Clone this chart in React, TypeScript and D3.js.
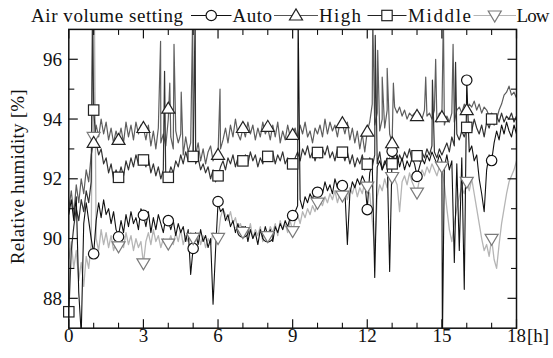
import React from "react";
import * as d3 from "d3";

// logger samples every 0.1 h, 0 .. 18 h
const hours = d3.range(181).map((i) => i / 10);

const autoValues = [
  90.8, 91.3, 90.6, 91.4, 88.2, 86.8, 90.5, 91.2, 90.6, 90.0, 89.5,
  90.6, 91.2, 90.7, 91.3, 90.8, 91.0, 90.5, 90.9, 90.3, 90.1,
  90.6, 90.2, 90.8, 90.4, 90.9, 90.5, 90.7, 90.3, 91.0, 90.8,
  90.4, 90.9, 90.2, 90.7, 90.3, 90.8, 90.5, 90.2, 90.7, 90.6,
  90.3, 90.6, 90.1, 90.5, 90.2, 90.4, 89.9, 90.3, 88.8, 89.7,
  90.2, 89.8, 90.3, 89.9, 90.1, 89.7, 90.0, 87.8, 89.6, 91.2,
  90.9, 91.0, 90.6, 90.8, 90.4, 90.6, 90.2, 90.5, 90.1, 90.2,
  90.4, 89.9, 90.3, 90.0, 90.2, 89.8, 90.3, 90.0, 90.4, 90.1,
  90.3, 89.9, 90.4, 90.2, 90.5, 90.3, 90.6, 90.4, 90.7, 90.8,
  90.9, 91.1, 91.3, 91.0, 91.4, 91.2, 91.5, 91.3, 91.7, 91.55,
  91.7, 91.5, 91.9, 91.6, 91.8, 91.5, 92.0, 91.7, 91.9, 91.8,
  91.6, 89.8, 91.5, 91.9, 91.7, 92.0, 91.8, 92.1, 91.9, 91.0,
  92.2, 92.5, 88.7, 92.4, 92.6, 92.3, 92.5, 92.7, 88.9, 92.9,
  92.5, 92.8, 92.4, 92.7, 92.3, 92.6, 92.4, 92.7, 92.5, 92.1,
  92.4, 92.7, 92.5, 92.8, 92.6, 92.9, 92.7, 92.5, 92.8, 92.6,
  92.4, 92.8, 92.3, 92.6, 89.2, 92.5, 89.6, 92.7, 88.3, 95.3,
  92.9, 93.1, 92.6, 92.8, 92.0, 91.5, 90.9, 92.3, 92.8, 92.6,
  93.2, 93.6, 93.3, 93.8, 93.5, 93.9, 93.6, 93.4, 93.8, 93.5,
];
const highValues = [
  91.0, 91.6, 90.8, 91.8, 91.2, 92.0, 91.5, 92.3, 91.9, 92.8, 93.2,
  93.8, 93.4, 94.0, 93.5, 93.9, 93.3, 93.7, 93.2, 93.6, 93.3,
  93.7, 93.2, 93.9, 93.4, 93.8, 93.3, 93.9, 93.5, 93.8, 93.7,
  93.3, 93.8, 93.1, 93.6, 93.0, 93.7, 93.2, 93.5, 93.1, 94.0,
  93.4, 93.0, 93.6, 93.2, 93.5, 92.8, 93.4, 92.9, 93.2, 92.9,
  92.8, 93.2, 92.6, 93.0, 92.5, 92.9, 93.1, 92.6, 92.8, 92.8,
  93.0, 93.3, 93.7, 93.2, 93.8, 93.4, 94.0, 93.5, 93.3, 93.7,
  93.4, 93.9, 93.5, 93.8, 93.3, 93.7, 93.4, 93.9, 93.5, 93.7,
  93.3, 93.8, 93.4, 93.9, 93.2, 93.6, 93.3, 93.8, 93.4, 93.5,
  93.7, 93.3, 93.8, 93.5, 93.9, 93.4, 93.6, 93.2, 93.7, 93.5,
  93.8, 93.4, 94.0, 93.5, 93.9, 93.6, 93.8, 93.4, 93.9, 93.85,
  93.5, 93.9, 93.3, 93.7, 93.2, 93.6, 93.0, 93.5, 92.9, 93.6,
  93.9, 94.5, 93.8, 94.2, 93.6, 94.0, 93.7, 94.3, 93.5, 93.2,
  94.4, 94.2, 94.4, 94.1, 94.3, 94.0, 94.2, 94.1, 94.2, 94.1,
  94.2, 94.0, 94.3, 94.1, 94.2, 94.0, 94.3, 93.9, 94.2, 94.06,
  93.8, 94.1, 93.9, 94.2, 93.9, 94.3, 94.4, 94.2, 94.5, 94.3,
  94.5, 94.4, 94.6, 94.3, 94.5, 94.2, 94.4, 94.3, 94.1, 94.2,
  94.1, 94.0, 94.3, 94.5, 94.8, 94.9, 95.1, 94.8, 94.9, 94.7,
];
const middleValues = [
  87.5, 89.6, 90.4, 91.0, 90.6, 91.3, 90.9, 91.6, 91.2, 91.9, 94.3,
  93.2, 92.8, 93.0, 92.5, 92.7, 92.2, 92.5, 92.0, 92.3, 92.05,
  92.4, 92.1, 92.6, 92.3, 92.7, 92.4, 92.8, 92.5, 92.7, 92.63,
  92.4, 92.7, 92.2, 92.5, 92.1, 92.4, 92.0, 92.3, 91.9, 92.05,
  92.4, 92.2, 92.6, 92.4, 92.8, 92.5, 92.9, 92.6, 92.8, 92.75,
  92.5, 92.7, 92.3, 92.5, 92.2, 92.4, 92.0, 92.3, 91.9, 92.1,
  92.4, 92.6, 92.3, 92.7, 92.5, 92.8, 92.4, 92.7, 92.5, 92.6,
  92.8, 92.5, 92.9, 92.6, 92.8, 92.4, 92.7, 92.5, 92.9, 92.75,
  92.6, 92.9, 92.5, 92.8, 92.6, 92.9, 92.5, 92.7, 92.4, 92.5,
  92.7, 92.9, 92.6, 93.0, 92.8, 93.1, 92.7, 92.9, 92.6, 92.88,
  92.7, 93.0, 92.8, 93.1, 92.7, 92.9, 92.6, 93.0, 92.8, 92.89,
  92.6, 92.9, 92.5, 92.8, 92.4, 92.7, 92.5, 92.8, 92.3, 92.49,
  92.7, 92.4, 92.8, 92.5, 92.9, 92.3, 92.6, 92.4, 92.7, 92.5,
  92.7, 92.5, 92.8, 92.6, 92.9, 92.7, 93.0, 92.6, 92.8, 92.77,
  92.6, 92.9, 92.7, 93.0, 92.8, 93.1, 92.9, 92.7, 93.0, 92.8,
  93.0, 93.2, 92.9, 93.4, 93.1, 93.5, 93.3, 93.6, 93.4, 93.72,
  93.9, 93.6, 94.0, 93.7, 93.5, 93.8, 93.4, 93.9, 93.7, 94.0,
  93.8, 94.1, 93.9, 94.2, 93.9, 94.1, 94.0, 94.2, 93.9, 94.1,
];
const lowValues = [
  89.3, 89.9, 89.0, 89.6, 88.6, 89.2, 88.4, 89.4, 89.0, 89.8, 93.4,
  90.0, 89.6, 90.3, 89.8, 90.2, 89.7, 90.1, 89.6, 89.9, 89.74,
  90.0, 89.7, 90.2, 89.8, 90.1, 89.6, 90.0, 89.7, 89.9, 89.17,
  89.9, 90.2, 89.8, 90.3, 89.9, 90.1, 89.7, 90.0, 89.8, 89.83,
  90.1, 89.8, 90.2, 89.9, 90.3, 89.8, 90.1, 89.9, 90.2, 90.02,
  89.9, 90.2, 89.8, 90.1, 89.7, 90.0, 89.8, 90.2, 90.0, 90.02,
  90.7, 91.0, 90.8, 90.6, 90.9, 90.5, 90.7, 90.3, 90.5, 90.22,
  90.4, 90.1, 90.5, 90.0, 90.3, 90.1, 90.4, 89.9, 90.2, 90.08,
  90.4, 90.2, 90.5, 90.1, 90.6, 90.3, 90.5, 90.2, 90.6, 90.25,
  90.6, 90.8, 90.5, 90.9, 90.7, 91.0, 90.8, 91.1, 90.9, 91.2,
  91.3, 91.1, 91.4, 91.2, 91.5, 91.3, 91.6, 91.2, 91.5, 91.44,
  91.6, 91.3, 91.7, 91.5, 91.8, 91.4, 91.7, 91.5, 91.9, 91.74,
  91.5, 90.6, 89.6, 91.4, 91.8, 91.6, 92.0, 91.7, 92.1, 92.06,
  92.0, 91.8, 90.9, 91.9, 92.1, 91.8, 92.2, 91.9, 91.7, 91.54,
  92.0, 92.3, 92.1, 92.4, 92.2, 92.5, 92.3, 92.1, 92.4, 92.41,
  91.8, 91.0, 90.3, 89.9, 90.5, 91.0, 91.4, 91.7, 91.5, 91.9,
  91.6, 92.0, 91.5, 91.0, 90.5, 90.0, 89.6, 89.8, 89.4, 89.99,
  89.3, 89.0, 89.8, 90.5, 91.0, 91.5, 91.9, 92.1, 92.3, 92.6,
];

// short spikes between samples: [hour, %]
const autoSpikes: [number, number][] = [[9.22, 97.5], [15.02, 86.5]];
const highSpikes: [number, number][] = [
  [3.69, 96.6], [4.06, 95.2], [4.23, 96.5], [4.52, 94.9], [4.98, 97.5], [6.08, 95.0],
  [12.22, 97.5], [12.42, 96.3], [12.6, 95.4], [12.8, 95.7], [13.05, 95.2],
  [14.35, 95.4], [14.75, 96.0], [15.06, 97.5], [15.45, 96.5],
];
const middleSpikes: [number, number][] = [
  [0.95, 97.5], [3.85, 95.6], [5.08, 97.5], [12.32, 96.8], [14.62, 95.3], [15.55, 95.9],
];
const lowSpikes: [number, number][] = [[0.97, 97.5], [1.03, 97.5]];

// marker positions
const autoMarkHours = [1, 2, 3, 4, 5, 6, 7, 8, 9, 10, 11, 12, 13, 14, 16, 17];
const autoMarkValues = [89.49, 90.06, 90.78, 90.6, 89.67, 91.24, 90.22, 90.06, 90.77, 91.55, 91.77, 90.97, 92.92, 92.08, 95.3, 92.61];
const highMarkHours = [1, 2, 3, 4, 6, 7, 8, 9, 11, 12, 13, 14, 15, 16];
const highMarkValues = [93.2, 93.3, 93.7, 94.35, 92.8, 93.7, 93.74, 93.47, 93.86, 93.58, 93.19, 94.1, 94.06, 94.3];
const middleMarkHours = [0, 1, 2, 3, 4, 5, 6, 7, 8, 9, 10, 11, 12, 13, 14, 16, 17];
const middleMarkValues = [87.55, 94.3, 92.05, 92.63, 92.05, 92.75, 92.1, 92.6, 92.75, 92.5, 92.88, 92.89, 92.49, 92.5, 92.77, 93.72, 94.0];
const lowMarkHours = [1, 2, 3, 4, 5, 6, 7, 8, 9, 10, 11, 12, 13, 14, 15, 16, 17];
const lowMarkValues = [93.4, 89.74, 89.17, 89.83, 90.02, 90.02, 90.22, 90.08, 90.25, 91.2, 91.44, 91.74, 92.06, 91.54, 92.41, 91.9, 89.99];

const xMajorTicks = [0, 3, 6, 9, 12, 15, 18];
const yMajorTicks = [88, 90, 92, 94, 96];

const textStyle = { fontFamily: "Liberation Serif" };

function Marker({ shape, cx, cy, stroke }: { shape: string; cx: number; cy: number; stroke: string }) {
  const common = { fill: "white", stroke, strokeWidth: 1.2 };
  if (shape === "circle") return <circle cx={cx} cy={cy} r={5.2} {...common} />;
  if (shape === "square") return <rect x={cx - 5.2} y={cy - 5.2} width={10.4} height={10.4} {...common} />;
  if (shape === "up")
    return <path d={`M${cx - 6.5},${cy + 4.5}L${cx + 6.5},${cy + 4.5}L${cx},${cy - 6.5}Z`} {...common} />;
  return <path d={`M${cx - 6.5},${cy - 4.5}L${cx + 6.5},${cy - 4.5}L${cx},${cy + 6.5}Z`} {...common} />;
}

export default function App() {
  const width = 553;
  const height = 358;
  const x = d3.scaleLinear().domain([0, 18]).range([68.8, 516.5]);
  const y = d3.scaleLinear().domain([87, 97]).range([328.2, 29.4]);
  const [x0, x1] = x.range();
  const [yb, yt] = y.range();

  const build = (vals: number[], spikes: [number, number][]) =>
    vals
      .map((v, i) => [hours[i], v] as [number, number])
      .concat(spikes)
      .sort((a, b) => a[0] - b[0]);

  const line = d3
    .line<[number, number]>()
    .x((d) => x(d[0]))
    .y((d) => y(d[1]));

  // drawing order: bottom to top
  const series = [
    { name: "Low", pts: build(lowValues, lowSpikes), color: "#b5b5b5", width: 1.3 },
    { name: "High", pts: build(highValues, highSpikes), color: "#5e5e5e", width: 1.2 },
    { name: "Middle", pts: build(middleValues, middleSpikes), color: "#333", width: 1.2 },
    { name: "Auto", pts: build(autoValues, autoSpikes), color: "#111", width: 1.1 },
  ];
  const markerSets = [
    { hours: autoMarkHours, values: autoMarkValues, shape: "circle", stroke: "#111" },
    { hours: middleMarkHours, values: middleMarkValues, shape: "square", stroke: "#222" },
    { hours: lowMarkHours, values: lowMarkValues, shape: "down", stroke: "#7a7a7a" },
    { hours: highMarkHours, values: highMarkValues, shape: "up", stroke: "#222" },
  ];

  const legend = [
    { label: "Auto", shape: "circle", color: "#111", stroke: "#111", x0: 191, x1: 231.5, tx: 232.5, tw: 39.5 },
    { label: "High", shape: "up", color: "#555", stroke: "#222", x0: 274, x1: 318, tx: 319, tw: 42 },
    { label: "Middle", shape: "square", color: "#222", stroke: "#222", x0: 367.5, x1: 406.5, tx: 408, tw: 63 },
    { label: "Low", shape: "down", color: "#b5b5b5", stroke: "#7a7a7a", x0: 473.5, x1: 516, tx: 516.5, tw: 33 },
  ];

  const xMinor = d3.range(0, 19).filter((t) => !xMajorTicks.includes(t));
  const yMinor = [89, 91, 93, 95];

  return (
    <svg
      width={width}
      height={height}
      style={{ position: "absolute", left: 0, top: 0, background: "white" }}
    >
      <defs>
        <clipPath id="plot">
          <rect x={x0} y={yt} width={x1 - x0} height={yb - yt} />
        </clipPath>
      </defs>

      <g clipPath="url(#plot)">
        {series.map((s) => (
          <path key={s.name} d={line(s.pts) || ""} fill="none" stroke={s.color} strokeWidth={s.width} strokeLinejoin="round" />
        ))}
      </g>

      {markerSets.map((m, k) => (
        <g key={k}>
          {m.hours.map((h, i) => (
            <Marker key={h} shape={m.shape} cx={x(h)} cy={y(m.values[i])} stroke={m.stroke} />
          ))}
        </g>
      ))}

      {/* frame */}
      <rect x={x0} y={yt} width={x1 - x0} height={yb - yt} fill="none" stroke="#111" strokeWidth={1.5} />

      {/* x ticks, bottom and top, pointing inward */}
      {xMajorTicks.map((t) => (
        <g key={"xM" + t}>
          <line x1={x(t)} x2={x(t)} y1={yb} y2={yb - 9} stroke="#111" strokeWidth={1.2} />
          <line x1={x(t)} x2={x(t)} y1={yt} y2={yt + 9} stroke="#111" strokeWidth={1.2} />
          <text x={x(t)} y={342} textAnchor="middle" fontSize={19} fill="#111" style={textStyle}>
            {t}
          </text>
        </g>
      ))}
      {xMinor.map((t) => (
        <g key={"xm" + t}>
          <line x1={x(t)} x2={x(t)} y1={yb} y2={yb - 5.5} stroke="#111" strokeWidth={1.1} />
          <line x1={x(t)} x2={x(t)} y1={yt} y2={yt + 5.5} stroke="#111" strokeWidth={1.1} />
        </g>
      ))}
      <text x={527} y={342} fontSize={19} fill="#111" style={textStyle}>
        [h]
      </text>

      {/* y ticks, left and right */}
      {yMajorTicks.map((v) => (
        <g key={"yM" + v}>
          <line x1={x0} x2={x0 + 9} y1={y(v)} y2={y(v)} stroke="#111" strokeWidth={1.2} />
          <line x1={x1} x2={x1 - 9} y1={y(v)} y2={y(v)} stroke="#111" strokeWidth={1.2} />
          <text x={62} y={y(v)} dy="0.35em" textAnchor="end" fontSize={19} fill="#111" style={textStyle}>
            {v}
          </text>
        </g>
      ))}
      {yMinor.map((v) => (
        <g key={"ym" + v}>
          <line x1={x0} x2={x0 + 5.5} y1={y(v)} y2={y(v)} stroke="#111" strokeWidth={1.1} />
          <line x1={x1} x2={x1 - 5.5} y1={y(v)} y2={y(v)} stroke="#111" strokeWidth={1.1} />
        </g>
      ))}

      <text
        transform={`translate(24,${(yt + yb) / 2 - 2}) rotate(-90)`}
        textAnchor="middle"
        fontSize={19}
        fill="#111"
        textLength={175}
        lengthAdjust="spacing"
        style={textStyle}
      >
        Relative humidity [%]
      </text>

      {/* legend */}
      <text x={31} y={22} fontSize={19} fill="#111" textLength={152} lengthAdjust="spacing" style={textStyle}>
        Air volume setting
      </text>
      {legend.map((l) => (
        <g key={l.label}>
          <line x1={l.x0} x2={l.x1} y1={15.5} y2={15.5} stroke={l.color} strokeWidth={1.2} />
          <Marker shape={l.shape} cx={(l.x0 + l.x1) / 2} cy={15.5} stroke={l.stroke} />
          <text x={l.tx} y={22} fontSize={19} fill="#111" textLength={l.tw} lengthAdjust="spacing" style={textStyle}>
            {l.label}
          </text>
        </g>
      ))}
    </svg>
  );
}
